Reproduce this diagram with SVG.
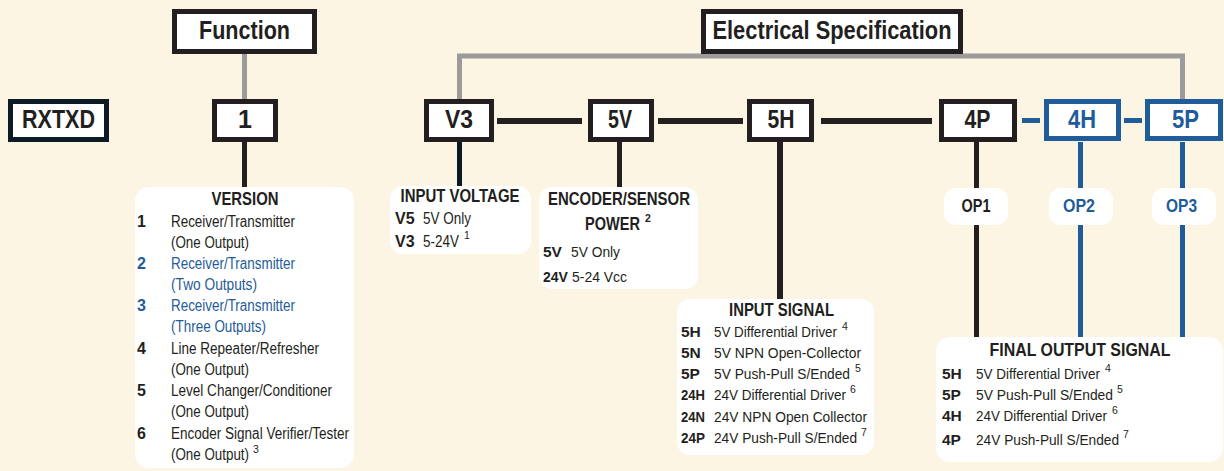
<svg xmlns="http://www.w3.org/2000/svg" width="1224" height="471" viewBox="0 0 1224 471">
<style>
text{font-family:"Liberation Sans",Arial,sans-serif;fill:#231f20}
.box{fill:#fff;stroke:#231f20;stroke-width:5}
.bbox{fill:#fff;stroke:#1f5c99;stroke-width:5}
.lbl{font-size:25px;font-weight:bold;text-anchor:middle}
.blue{fill:#1f5c99}
.panel{fill:#fff}
.ttl{font-size:18px;font-weight:bold;text-anchor:middle}
.it{font-size:16px}
.is{font-size:15.5px}
.b{font-weight:bold}
.sup{font-size:10.5px}
.op{font-size:18px;font-weight:bold;text-anchor:middle}
.k{stroke:#231f20;stroke-width:6;fill:none}
.g{stroke:#9b9b9b;stroke-width:5;fill:none}
.bl{stroke:#1f5c99;stroke-width:5;fill:none}
</style>
<rect width="1224" height="471" fill="#fdf5e3"/>
<g id="connectors">
<line class="g" x1="244.5" y1="54" x2="244.5" y2="99"/>
<polyline class="g" points="459.5,99 459.5,56 1182.5,56 1182.5,99"/>
<line class="k" x1="244.5" y1="142" x2="244.5" y2="188" style="stroke-width:5"/>
<line class="k" x1="459.5" y1="142" x2="459.5" y2="187" style="stroke:#0b1a22;stroke-width:5"/>
<line class="k" x1="619.5" y1="142" x2="619.5" y2="188" style="stroke-width:5"/>
<line class="k" x1="780" y1="142" x2="780" y2="300"/>
<line class="k" x1="976.5" y1="142" x2="976.5" y2="338" style="stroke-width:5"/>
<line class="bl" x1="1080.5" y1="142" x2="1080.5" y2="338"/>
<line class="bl" x1="1182.5" y1="142" x2="1182.5" y2="338"/>
<line class="k" x1="497" y1="121" x2="582" y2="121"/>
<line class="k" x1="658" y1="121" x2="743" y2="121"/>
<line class="k" x1="821" y1="121" x2="932" y2="121"/>
<line class="bl" x1="1022" y1="120.5" x2="1040" y2="120.5"/>
<line class="bl" x1="1124" y1="120.5" x2="1142" y2="120.5"/>
</g>
<g id="function">
<rect class="box" x="174.5" y="11.5" width="140" height="40"/>
<text class="lbl" x="244.5" y="39" textLength="91" lengthAdjust="spacingAndGlyphs">Function</text>
</g>
<g id="electrical">
<rect class="box" x="703.5" y="11.5" width="257" height="40"/>
<text class="lbl" x="832" y="39" textLength="239" lengthAdjust="spacingAndGlyphs">Electrical Specification</text>
</g>
<g id="rxtxd">
<rect class="box" x="10.5" y="101.5" width="96" height="38" style="stroke:#0d1b26"/>
<text class="lbl" x="58.5" y="128" textLength="73" lengthAdjust="spacingAndGlyphs">RXTXD</text>
</g>
<g id="n1">
<rect class="box" x="214.5" y="101.5" width="61" height="38"/>
<text class="lbl" x="245" y="128">1</text>
</g>
<g id="v3">
<rect class="box" x="426.5" y="101.5" width="65" height="38"/>
<text class="lbl" x="459" y="128" textLength="28" lengthAdjust="spacingAndGlyphs">V3</text>
</g>
<g id="n5v">
<rect class="box" x="590.5" y="101.5" width="61" height="38"/>
<text class="lbl" x="620" y="128" textLength="24" lengthAdjust="spacingAndGlyphs">5V</text>
</g>
<g id="n5h">
<rect class="box" x="749.5" y="101.5" width="62" height="38"/>
<text class="lbl" x="781" y="128" textLength="27" lengthAdjust="spacingAndGlyphs">5H</text>
</g>
<g id="n4p">
<rect class="box" x="941.5" y="101.5" width="73" height="38"/>
<text class="lbl" x="977.5" y="128" textLength="26" lengthAdjust="spacingAndGlyphs">4P</text>
</g>
<g id="n4h">
<rect class="bbox" x="1046.5" y="101.5" width="72" height="37"/>
<text class="lbl blue" x="1082" y="128" textLength="28" lengthAdjust="spacingAndGlyphs">4H</text>
</g>
<g id="n5p">
<rect class="bbox" x="1147.5" y="101.5" width="73" height="37"/>
<text class="lbl blue" x="1185.5" y="128" textLength="27" lengthAdjust="spacingAndGlyphs">5P</text>
</g>
<g id="version">
<rect class="panel" x="135" y="187" width="219" height="281" rx="14"/>
<text class="ttl" x="245" y="205" textLength="67" lengthAdjust="spacingAndGlyphs">VERSION</text>
<g class="it">
<text class="b" x="137" y="226.5">1</text>
<text x="171" y="226.5" textLength="124" lengthAdjust="spacingAndGlyphs">Receiver/Transmitter</text>
<text x="171" y="247.5" textLength="78" lengthAdjust="spacingAndGlyphs">(One Output)</text>
<text class="b blue" x="137" y="268.5">2</text>
<text class="blue" x="171" y="268.5" textLength="124" lengthAdjust="spacingAndGlyphs">Receiver/Transmitter</text>
<text class="blue" x="171" y="289.5" textLength="86" lengthAdjust="spacingAndGlyphs">(Two Outputs)</text>
<text class="b blue" x="137" y="311">3</text>
<text class="blue" x="171" y="311" textLength="124" lengthAdjust="spacingAndGlyphs">Receiver/Transmitter</text>
<text class="blue" x="171" y="332" textLength="95" lengthAdjust="spacingAndGlyphs">(Three Outputs)</text>
<text class="b" x="137" y="353.5">4</text>
<text x="171" y="353.5" textLength="148" lengthAdjust="spacingAndGlyphs">Line Repeater/Refresher</text>
<text x="171" y="374.5" textLength="78" lengthAdjust="spacingAndGlyphs">(One Output)</text>
<text class="b" x="137" y="396">5</text>
<text x="171" y="396" textLength="161" lengthAdjust="spacingAndGlyphs">Level Changer/Conditioner</text>
<text x="171" y="417" textLength="78" lengthAdjust="spacingAndGlyphs">(One Output)</text>
<text class="b" x="137" y="438.5">6</text>
<text x="171" y="438.5" textLength="178" lengthAdjust="spacingAndGlyphs">Encoder Signal Verifier/Tester</text>
<text x="171" y="459.5"><tspan textLength="78" lengthAdjust="spacingAndGlyphs">(One Output)</tspan><tspan class="sup" dx="4" dy="-7">3</tspan></text>
</g>
</g>
<g id="input-voltage">
<rect class="panel" x="390" y="186" width="141" height="68" rx="13"/>
<text class="ttl" x="460" y="202" textLength="119" lengthAdjust="spacingAndGlyphs">INPUT VOLTAGE</text>
<g class="it">
<text class="b" x="395" y="224">V5</text>
<text x="423" y="224" textLength="48" lengthAdjust="spacingAndGlyphs">5V Only</text>
<text class="b" x="395" y="247">V3</text>
<text x="423" y="247"><tspan textLength="36" lengthAdjust="spacingAndGlyphs">5-24V</tspan><tspan class="sup" dx="5" dy="-8">1</tspan></text>
</g>
</g>
<g id="encoder-power">
<rect class="panel" x="539" y="187" width="159" height="102" rx="13"/>
<text class="ttl" x="619" y="205" textLength="142" lengthAdjust="spacingAndGlyphs">ENCODER/SENSOR</text>
<text class="ttl" x="585" y="230" style="text-anchor:start"><tspan textLength="55" lengthAdjust="spacingAndGlyphs">POWER</tspan><tspan class="sup" dx="5" dy="-8">2</tspan></text>
<g class="is">
<text class="b" x="543" y="257">5V</text>
<text x="571" y="257" textLength="49" lengthAdjust="spacingAndGlyphs">5V Only</text>
<text class="b" x="543" y="282" textLength="25" lengthAdjust="spacingAndGlyphs">24V</text>
<text x="572" y="282" textLength="55" lengthAdjust="spacingAndGlyphs">5-24 Vcc</text>
</g>
</g>
<g id="input-signal">
<rect class="panel" x="677" y="299" width="197" height="156" rx="13"/>
<text class="ttl" x="781.5" y="316" textLength="105" lengthAdjust="spacingAndGlyphs">INPUT SIGNAL</text>
<g class="is">
<text class="b" x="681" y="337">5H</text>
<text x="714" y="337"><tspan textLength="123" lengthAdjust="spacingAndGlyphs">5V Differential Driver</tspan><tspan class="sup" dx="5" dy="-7">4</tspan></text>
<text class="b" x="681" y="358">5N</text>
<text x="714" y="358" textLength="147" lengthAdjust="spacingAndGlyphs">5V NPN Open-Collector</text>
<text class="b" x="681" y="379">5P</text>
<text x="714" y="379"><tspan textLength="136" lengthAdjust="spacingAndGlyphs">5V Push-Pull S/Ended</tspan><tspan class="sup" dx="5" dy="-7">5</tspan></text>
<text class="b" x="681" y="400" textLength="24" lengthAdjust="spacingAndGlyphs">24H</text>
<text x="714" y="400"><tspan textLength="132" lengthAdjust="spacingAndGlyphs">24V Differential Driver</tspan><tspan class="sup" dx="4" dy="-7">6</tspan></text>
<text class="b" x="681" y="422" textLength="24" lengthAdjust="spacingAndGlyphs">24N</text>
<text x="714" y="422" textLength="153" lengthAdjust="spacingAndGlyphs">24V NPN Open Collector</text>
<text class="b" x="681" y="443" textLength="24" lengthAdjust="spacingAndGlyphs">24P</text>
<text x="714" y="443"><tspan textLength="143" lengthAdjust="spacingAndGlyphs">24V Push-Pull S/Ended</tspan><tspan class="sup" dx="4" dy="-7">7</tspan></text>
</g>
</g>
<g id="op1">
<rect class="panel" x="944" y="188" width="64" height="37" rx="12"/>
<text class="op" x="976" y="212" textLength="29" lengthAdjust="spacingAndGlyphs">OP1</text>
</g>
<g id="op2">
<rect class="panel" x="1049" y="188" width="64" height="37" rx="12"/>
<text class="op blue" x="1079" y="212" textLength="32" lengthAdjust="spacingAndGlyphs">OP2</text>
</g>
<g id="op3">
<rect class="panel" x="1152" y="188" width="64" height="37" rx="12"/>
<text class="op blue" x="1181.5" y="212" textLength="31" lengthAdjust="spacingAndGlyphs">OP3</text>
</g>
<g id="final-output">
<rect class="panel" x="936" y="337" width="287" height="125" rx="14"/>
<text class="ttl" x="1080" y="356" textLength="181" lengthAdjust="spacingAndGlyphs">FINAL OUTPUT SIGNAL</text>
<g class="is">
<text class="b" x="942" y="379">5H</text>
<text x="976" y="379"><tspan textLength="124" lengthAdjust="spacingAndGlyphs">5V Differential Driver</tspan><tspan class="sup" dx="5" dy="-7">4</tspan></text>
<text class="b" x="942" y="400">5P</text>
<text x="976" y="400"><tspan textLength="137" lengthAdjust="spacingAndGlyphs">5V Push-Pull S/Ended</tspan><tspan class="sup" dx="4" dy="-7">5</tspan></text>
<text class="b" x="942" y="421">4H</text>
<text x="976" y="421"><tspan textLength="131" lengthAdjust="spacingAndGlyphs">24V Differential Driver</tspan><tspan class="sup" dx="5" dy="-7">6</tspan></text>
<text class="b" x="942" y="445">4P</text>
<text x="976" y="445"><tspan textLength="143" lengthAdjust="spacingAndGlyphs">24V Push-Pull S/Ended</tspan><tspan class="sup" dx="4" dy="-7">7</tspan></text>
</g>
</g>
</svg>
